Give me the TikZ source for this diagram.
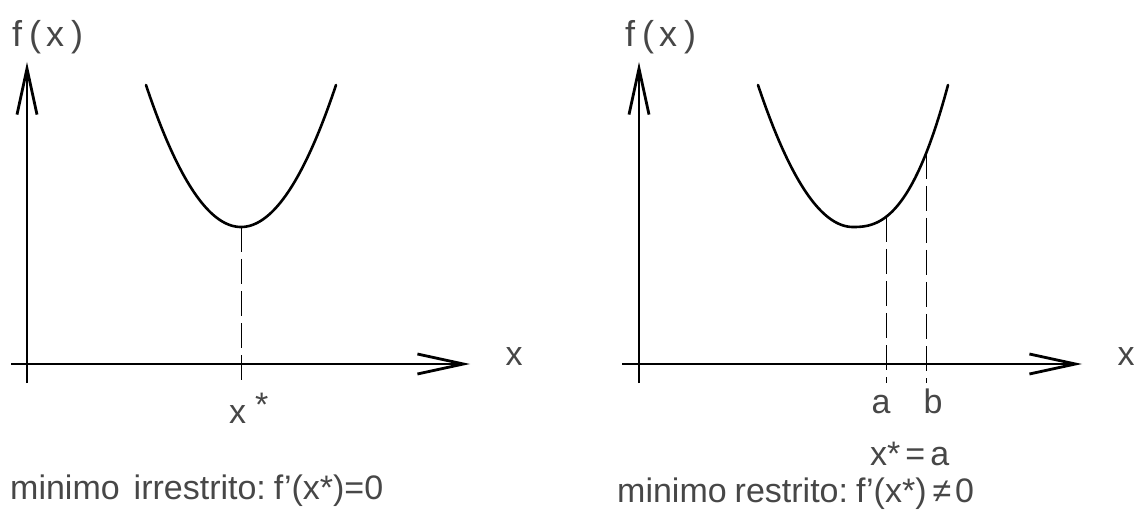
\documentclass[tikz,border=0pt]{standalone}
\usepackage{fontspec}
\setmainfont{Liberation Sans}
\usetikzlibrary{arrows.meta}
\begin{document}
\begin{tikzpicture}[x=1pt,y=-1pt,
  axis/.style={line width=2.4pt,-{Straight Barb[length=46pt,width=20pt,line width=2.8pt]}},
  curve/.style={line width=2.6pt,line cap=round},
  guide/.style={line width=0.9pt,dash pattern=on 25pt off 7pt},
  lbl/.style={inner sep=0pt,text=black!72,font=\fontsize{34}{36}\selectfont},
  fxlbl/.style={inner sep=0pt,anchor=base west,text=black!72,font=\fontsize{36}{38}\selectfont}]
\useasboundingbox (0,0) rectangle (1134,518);
% ---------- left panel ----------
\coordinate (L0) at (11,364);
\coordinate (L1) at (470,364);
\coordinate (Lb) at (27,383);
\coordinate (Lt) at (27,62);
\draw[axis] (L0) -- (L1);
\draw[axis] (Lb) -- (Lt);
\draw[curve] plot[domain=-95:95,samples=80] ({241+\x},{227-142*(\x/95)^2});
\coordinate (Lv) at (241,227);
\coordinate (Lvb) at (241,383);
\draw[guide] (Lv) -- (Lvb);
\node[fxlbl] (fxL) at (12,47) {f\kern7pt(\kern5pt x\kern7pt)};
\node[lbl,anchor=base] (xL) at (514,365) {x};
\node[lbl,anchor=base west] (xsL) at (229,423) {x\kern9pt\raisebox{7pt}{*}};
\node[lbl,anchor=base west] (capL) at (10,499) {minimo\hspace{14pt}irrestrito:\hspace{8pt}f'(x*)=0};
% ---------- right panel ----------
\coordinate (R0) at (622,364);
\coordinate (R1) at (1082,364);
\coordinate (Rb) at (639,383);
\coordinate (Rt) at (639,62);
\draw[axis] (R0) -- (R1);
\draw[axis] (Rb) -- (Rt);
\draw[curve] plot[domain=-95:0,samples=50] ({853+\x},{227-142*(\x/95)^2})
  -- plot[domain=0:95,samples=50] ({853+\x},{227-142*(\x/95)^2*sqrt(\x/95)});
\coordinate (Ra) at (886,217);
\coordinate (Rab) at (886,383);
\coordinate (Rbt) at (926,154);
\coordinate (Rbb) at (926,383);
\draw[guide] (Ra) -- (Rab);
\draw[guide] (Rbt) -- (Rbb);
\node[fxlbl] (fxR) at (625,47) {f\kern7pt(\kern5pt x\kern7pt)};
\node[lbl,anchor=base] (xR) at (1126,365) {x};
\node[lbl,anchor=base] (aR) at (881,413) {a};
\node[lbl,anchor=base] (bR) at (933,413) {b};
\node[lbl,anchor=base west] (xeq) at (870,465) {x*\kern5pt=\kern5pt a};
\node[lbl,anchor=base west] (capR) at (617,502) {minimo\hspace{8pt}restrito:\hspace{8pt}f'(x*)\hspace{6pt}≠\hspace{4pt}0};
\end{tikzpicture}
\end{document}
